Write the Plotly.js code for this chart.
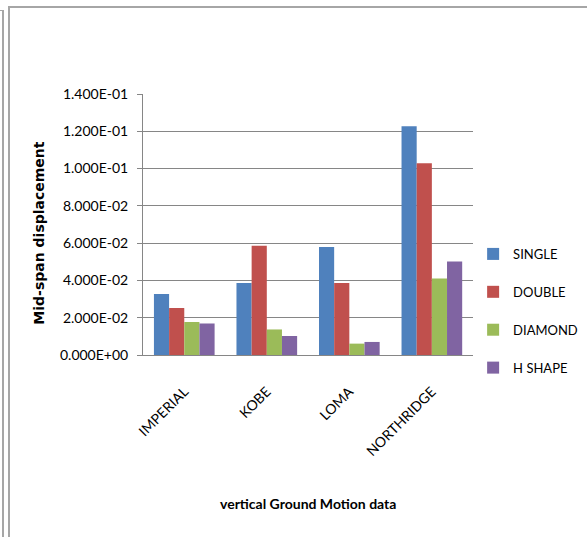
<!DOCTYPE html>
<html>
<head>
<meta charset="utf-8">
<script src="https://cdn.plot.ly/plotly-3.0.1.min.js"></script>
<style>
  html, body { margin: 0; padding: 0; background: #ffffff; }
  #wrap { position: relative; width: 587px; height: 537px; overflow: hidden; }
  #chart { position: absolute; left: 0; top: 0; width: 587px; height: 537px; }
  .edge { position: absolute; background: #a6a6a6; pointer-events: none; }
</style>
</head>
<body>
<div id="wrap">
  <div id="chart"></div>
  <div class="edge" style="left:2px; top:10px; width:2px; height:527px;"></div>
  <div class="edge" style="left:0px; top:10px; width:3px; height:1px;"></div>
  <div class="edge" style="left:8px; top:6px; width:2px; height:531px;"></div>
  <div class="edge" style="left:8px; top:6px; width:579px; height:2px;"></div>
</div>
<script>
// Ground motion records on the category axis
const motions = ['IMPERIAL', 'KOBE', 'LOMA', 'NORTHRIDGE'];

// Mid-span displacement per pier shape
const single  = [0.0327, 0.0386, 0.0579, 0.1227];
const double_ = [0.0252, 0.0586, 0.0386, 0.1029];
const diamond = [0.0177, 0.0137, 0.0061, 0.0410];
const hshape  = [0.0169, 0.0102, 0.0070, 0.0502];

// Y axis ticks in scientific notation
const yTickVals = [0, 0.02, 0.04, 0.06, 0.08, 0.10, 0.12, 0.14];
const yTickText = ['0.000E+00', '2.000E-02', '4.000E-02', '6.000E-02',
                   '8.000E-02', '1.000E-01', '1.200E-01', '1.400E-01'];

const seriesNames = ['SINGLE', 'DOUBLE', 'DIAMOND', 'H SHAPE'];
const seriesValues = [single, double_, diamond, hshape];
const seriesColors = ['#4f81bd', '#c0504d', '#9bbb59', '#8064a2'];

const traces = seriesNames.map((name, i) => ({
  type: 'bar',
  name: name,
  x: motions,
  y: seriesValues[i],
  legendgroup: name,
  marker: { color: seriesColors[i], line: { width: 0 } },
  hoverinfo: 'x+y+name'
}));

const font = "Lato, 'Liberation Sans', Arial, sans-serif";
const titleFont = "'DejaVu Sans', 'Liberation Sans', Arial, sans-serif";

const layout = {
  width: 587,
  height: 537,
  margin: { l: 143, r: 112, t: 94, b: 182, pad: 0 },
  paper_bgcolor: '#ffffff',
  plot_bgcolor: '#ffffff',
  barmode: 'group',
  bargap: 0.265,
  bargroupgap: 0,
  font: { family: font, size: 13, color: '#000000' },
  xaxis: {
    type: 'category',
    tickangle: -45,
    showgrid: false,
    showline: true,
    linecolor: '#868686',
    linewidth: 1,
    ticks: '',
    ticklabelshift: 0,
    ticklabelstandoff: 22,
    tickfont: { family: font, size: 14, color: '#000000' },
    automargin: false
  },
  yaxis: {
    range: [0, 0.14],
    tickvals: yTickVals,
    ticktext: yTickText,
    showgrid: true,
    gridcolor: '#868686',
    gridwidth: 1,
    showline: true,
    linecolor: '#868686',
    linewidth: 1,
    ticks: 'outside',
    ticklen: 5,
    tickcolor: '#868686',
    ticklabelstandoff: 6,
    tickfont: { family: font, size: 14, color: '#000000' },
    zeroline: false,
    automargin: false
  },
  legend: {
    xref: 'container',
    yref: 'container',
    x: 0.806,
    y: 0.555,
    xanchor: 'left',
    yanchor: 'top',
    traceorder: 'grouped',
    tracegroupgap: 18,
    font: { family: font, size: 13, color: '#000000' },
    bgcolor: 'rgba(0,0,0,0)',
    itemwidth: 30
  },
  annotations: [
    {
      text: '<b>Mid-span displacement</b>',
      xref: 'paper', yref: 'paper',
      x: -0.315, y: 0.465,
      xanchor: 'center', yanchor: 'middle',
      textangle: -90,
      showarrow: false,
      font: { family: titleFont, size: 14, color: '#000000' }
    },
    {
      text: '<b>vertical Ground Motion data</b>',
      xref: 'paper', yref: 'paper',
      x: 0.5, y: -0.57,
      xanchor: 'center', yanchor: 'middle',
      showarrow: false,
      font: { family: font, size: 14, color: '#000000' }
    }
  ],
  showlegend: true
};

Plotly.newPlot('chart', traces, layout, { displayModeBar: false, staticPlot: true });
</script>
</body>
</html>
